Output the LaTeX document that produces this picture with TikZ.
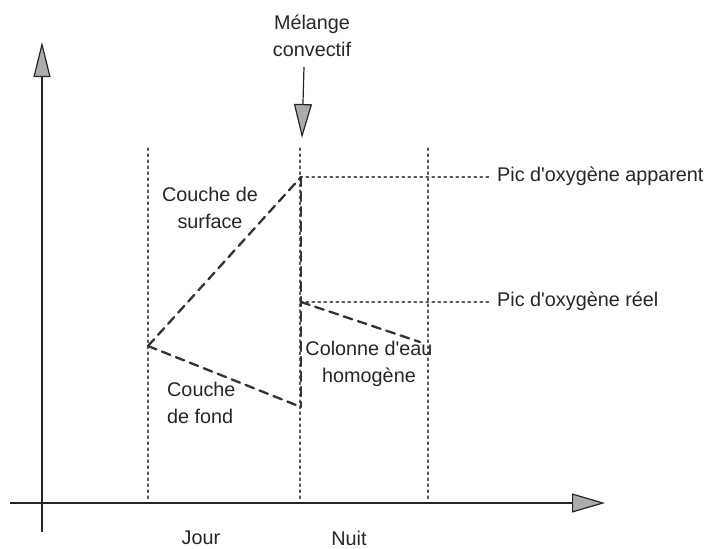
\documentclass[tikz,border=0pt]{standalone}
\usepackage{fontspec}
\setmainfont{Liberation Sans}
\usepackage{tikz}
\usetikzlibrary{arrows.meta}
\usepackage{tkz-euclide}

\tikzset{
  axe/.style={line width=1.2pt, black!85,
    -{Triangle[length=35pt, width=17pt, fill=gray!65, color=black!85]}},
  repere/.style={line width=1.3pt, gray!70!black, dash pattern=on 2.5pt off 3.5pt},
  courbe/.style={line width=2.3pt, black!80, dash pattern=on 9pt off 6pt},
  texte/.style={font=\fontsize{19.8}{27}\selectfont, text=black!85, inner sep=0pt}
}

\begin{document}
\begin{tikzpicture}[x=1pt, y=-1pt]
                \useasboundingbox (0,0) rectangle (716,549);
                % axes
                \tkzDefPoints{42/532/Yb, 42/42/Yt, 10/503/Xg, 605/503/Xd}
                \draw[axe] (Yb) -- (Yt);
                \draw[axe, -{Triangle[length=33pt, width=19pt, fill=gray!65, color=black!85]}] (Xg) -- (Xd);
                % reperes pointilles
                \tkzDefPoints{148/148/J1, 148/500/J2, 300/148/M1, 300/500/M2, 428/148/N1, 428/500/N2}
                \tkzDefPoints{300/177/H1, 490/177/H2, 300/302/R1, 490/302/R2}
                \tkzDrawSegments[repere](J1,J2 M1,M2 N1,N2 H1,H2 R1,R2)
                % melange
                \tkzDefPoints{304/67/Ma, 302/138/Mb}
                \draw[axe, -{Triangle[length=34pt, width=18pt, fill=gray!65, color=black!85]}] (Ma) -- (Mb);
                % oxygene
                \tkzDefPoints{148/346/A, 301/177/B, 301/407/C, 301/302/D, 420/342/E}
                \tkzDrawSegments[courbe](A,B A,C B,C D,E)
                % textes
                \node[texte, align=center] (melange) at (312,36) {Mélange\\convectif};
                \node[texte, align=center] (surface) at (210,208) {Couche de\\surface};
                \node[texte, align=left, anchor=west] (fond) at (167,403) {Couche\\de fond};
                \node[texte, align=center] (colonne) at (369,364) {Colonne d\textquotesingle eau\\homogène};
                \node[texte, anchor=west] (apparent) at (497,176) {Pic d\textquotesingle oxygène apparent};
                \node[texte, anchor=west] (reel) at (497,301) {Pic d\textquotesingle oxygène réel};
                \node[texte] (jour) at (201,538) {Jour};
                \node[texte] (nuit) at (349,538) {Nuit};
            \end{tikzpicture}
\end{document}
